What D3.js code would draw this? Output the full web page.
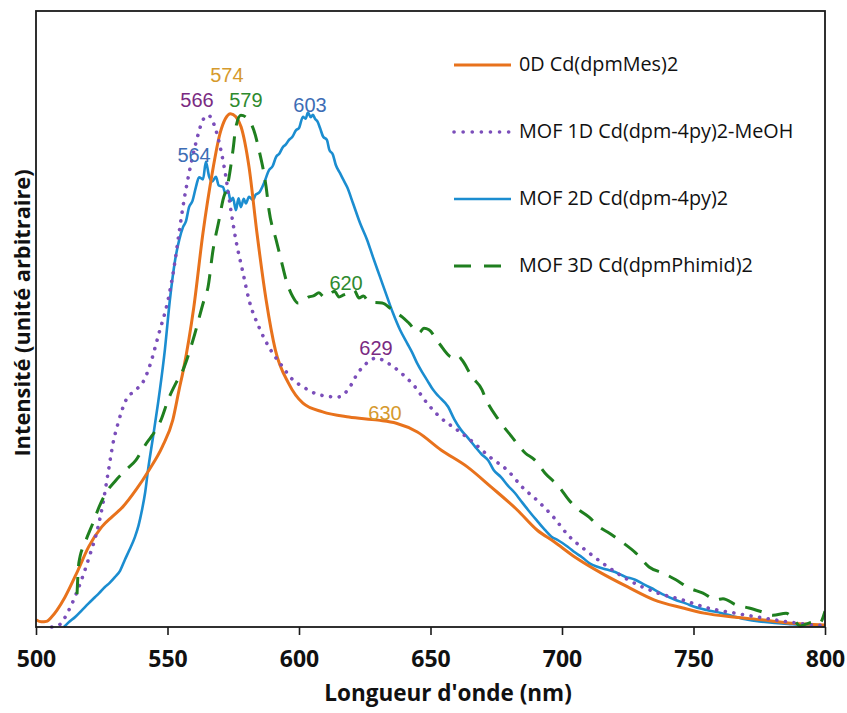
<!DOCTYPE html>
<html><head><meta charset="utf-8">
<script src="https://cdn.jsdelivr.net/npm/d3@7"></script>
<style>html,body{margin:0;padding:0;background:#fff;}svg{display:block;}</style>
</head><body>
<script>
// ---- data ----
const seriesNames = ["0D Cd(dpmMes)2","MOF 1D Cd(dpm-4py)2-MeOH","MOF 2D Cd(dpm-4py)2","MOF 3D Cd(dpmPhimid)2"];
const xTicks = [500,550,600,650,700,750,800];

const orange0D = [[500,0.014],[502,0.01],[504,0.011],[506,0.02],[508,0.033],[511,0.058],[516,0.111],[520,0.156],[525,0.195],[529,0.215],[533,0.234],[538,0.267],[543,0.306],[548,0.351],[552,0.403],[554.4,0.462],[556,0.5],[560,0.623],[563.5,0.768],[567,0.884],[570,0.962],[572,0.99],[574,1.0],[576,0.994],[578,0.974],[581,0.896],[584,0.768],[587.5,0.637],[591,0.54],[596,0.475],[601.5,0.436],[609,0.419],[619,0.409],[630,0.403],[637,0.397],[645,0.38],[654,0.345],[664,0.312],[673,0.273],[683,0.228],[690.5,0.189],[697,0.166],[705,0.136],[715,0.105],[725,0.078],[735,0.053],[746,0.037],[754,0.027],[766,0.019],[776,0.014],[786,0.008],[800,0.004]];

const purple1D = [[506,0],[508.8,0.004],[512.5,0.033],[516.3,0.078],[520.2,0.136],[523.6,0.195],[525.5,0.242],[527.4,0.3],[529.3,0.358],[531.2,0.397],[534.2,0.442],[538,0.462],[541,0.48],[543,0.505],[546.8,0.573],[550.2,0.637],[552.5,0.701],[554.4,0.768],[556.3,0.832],[558.2,0.884],[560.8,0.943],[563.5,0.988],[565.4,0.997],[568.4,0.968],[570.3,0.929],[572.2,0.877],[574.1,0.812],[576,0.754],[578.7,0.69],[581,0.637],[584.8,0.584],[588.6,0.545],[593.9,0.506],[597,0.485],[601.5,0.468],[608,0.452],[614.8,0.448],[618.6,0.462],[622.4,0.495],[626.2,0.516],[629.3,0.524],[633.8,0.514],[638.8,0.495],[644.1,0.468],[648.7,0.436],[653.6,0.409],[660.1,0.384],[666.2,0.36],[672.6,0.331],[679.1,0.306],[685.2,0.271],[690.5,0.247],[696.6,0.215],[702.3,0.179],[709.9,0.146],[717.5,0.117],[725.1,0.092],[735.4,0.068],[745.6,0.053],[755.5,0.037],[765.8,0.027],[776,0.018],[786,0.01],[796,0.004],[800,0.003]];

const blue2D = [[510.6,0],[512.2,0.008],[515,0.02],[517.5,0.033],[520,0.046],[522.4,0.058],[524,0.066],[526.2,0.078],[528,0.086],[530,0.097],[532,0.11],[533.8,0.131],[535.5,0.15],[537.6,0.175],[539,0.198],[540.3,0.228],[541.5,0.262],[542.6,0.306],[544.5,0.37],[546.4,0.436],[547.1,0.462],[549,0.54],[550.9,0.637],[552.9,0.715],[554.5,0.755],[555.9,0.779],[557,0.79],[558.2,0.818],[559.5,0.83],[560.8,0.857],[562,0.876],[563.5,0.872],[564.6,0.906],[565.8,0.878],[567,0.868],[568.4,0.877],[569.5,0.86],[571.1,0.857],[572,0.845],[573,0.85],[574,0.83],[574.9,0.836],[576,0.812],[577,0.835],[577.9,0.818],[579,0.834],[579.8,0.825],[581,0.838],[582.5,0.832],[583.5,0.842],[584.8,0.846],[586.7,0.865],[588.6,0.89],[590,0.898],[591.3,0.916],[592.5,0.922],[593.9,0.935],[595,0.94],[596.2,0.949],[597.5,0.955],[598.9,0.968],[600,0.972],[601.5,0.994],[602.5,0.99],[603.4,1.002],[604.5,0.993],[605.3,0.998],[606.1,0.99],[607,0.985],[608,0.972],[609.2,0.955],[610.6,0.949],[611.5,0.93],[612.9,0.92],[614,0.9],[615.6,0.884],[617,0.87],[618.3,0.857],[620.5,0.826],[623.2,0.787],[625.9,0.754],[628.1,0.721],[630.8,0.682],[633.5,0.643],[635.7,0.612],[638.4,0.579],[641.1,0.553],[643,0.535],[644.9,0.514],[647,0.495],[648.7,0.481],[651,0.462],[653,0.45],[656.7,0.429],[659,0.405],[661.6,0.384],[664,0.37],[667,0.351],[669.5,0.336],[671.9,0.325],[674,0.306],[676.8,0.292],[679.5,0.275],[682.1,0.261],[684.5,0.245],[687.1,0.228],[690,0.21],[693.5,0.189],[696,0.176],[698.5,0.169],[702.3,0.156],[705,0.145],[707.6,0.136],[710.5,0.124],[713.7,0.117],[717,0.112],[720.2,0.107],[724,0.098],[727.8,0.092],[731.5,0.082],[735.4,0.072],[739,0.062],[743,0.053],[747,0.046],[750.6,0.039],[755,0.033],[760.8,0.027],[765,0.021],[770.7,0.014],[775,0.011],[781,0.008],[786,0.006],[791,0.004],[795,0.003],[800,0.002]];

const green3D = [[515.6,0.064],[516.3,0.125],[519,0.169],[521.7,0.203],[524,0.234],[526.6,0.261],[530.4,0.286],[534.2,0.306],[538,0.325],[541.1,0.351],[543.7,0.37],[545.6,0.384],[547.5,0.403],[550.2,0.442],[553.2,0.475],[555.9,0.501],[559.7,0.559],[563.9,0.637],[565.4,0.662],[567.3,0.734],[569.6,0.793],[571.1,0.832],[573,0.865],[574.9,0.929],[576,0.974],[577.9,0.997],[580.9,0.988],[582.8,0.968],[584.8,0.929],[587.5,0.857],[588.6,0.812],[591.3,0.754],[593.2,0.715],[595.1,0.676],[597.7,0.643],[599.6,0.631],[601.1,0.633],[603.8,0.643],[605.5,0.645],[607.6,0.651],[609.5,0.643],[611.4,0.647],[613.5,0.654],[615.2,0.643],[617,0.647],[619,0.651],[621,0.656],[622.8,0.641],[624.5,0.645],[626.6,0.633],[631.6,0.631],[635.4,0.618],[639.2,0.604],[641.8,0.592],[645.6,0.573],[647.5,0.582],[649.4,0.579],[653.2,0.553],[658.2,0.526],[660,0.53],[662,0.52],[665.8,0.487],[669.6,0.462],[670.7,0.448],[676,0.403],[681,0.37],[686,0.339],[689.7,0.325],[693.5,0.3],[698.9,0.273],[702.7,0.247],[706.5,0.228],[710.3,0.214],[714.1,0.195],[717.9,0.183],[723.2,0.164],[728.1,0.144],[733.1,0.117],[738.4,0.105],[743.3,0.092],[748.3,0.076],[753.6,0.066],[758.6,0.053],[761.2,0.055],[766.2,0.043],[771.1,0.037],[776.4,0.029],[780.2,0.023],[785.2,0.027],[788.2,0.014],[790.5,0.002],[793,0.006],[796,0.01],[798,0.008],[800,0.031]];

// peak annotations: label, wavelength of label centre, intensity of label baseline, colour
const peakLabels = ["574","566","579","564","603","620","629","630"];
const peakNm     = [572.6,561.2,579.8,560.1,604.2,617.9,629.3,632.7];
const peakLevel  = [1.062,1.013,1.013,0.906,1.003,0.657,0.530,0.403];
const peakColors = ["#D69A2D","#7A2A82","#2E8A2E","#3D6DB5","#3D6DB5","#2E8A2E","#7A2A82","#D69A2D"];

// ---- drawing ----
const W = 847, H = 713;
const m = {left:36, right:22, top:11, bottom:86};
const svg = d3.select("body").append("svg").attr("width",W).attr("height",H);
const x = d3.scaleLinear().domain([500,800]).range([m.left, W-m.right]);
const y = d3.scaleLinear().domain([0,1.2]).range([H-m.bottom, m.top]);

const styles = [
  {data:orange0D, color:"#E8721C", width:3, dash:null, cap:"butt"},
  {data:purple1D, color:"#7B4EBA", width:3.6, dash:"0.1 8.6", cap:"round"},
  {data:blue2D,   color:"#1B8DD0", width:2.6, dash:null, cap:"butt"},
  {data:green3D,  color:"#1F7F1F", width:3, dash:"17 11", cap:"butt"}
];

const line = d3.line().x(d=>x(d[0])).y(d=>y(d[1])).curve(d3.curveMonotoneX);
svg.append("clipPath").attr("id","c").append("rect")
  .attr("x",m.left).attr("y",m.top).attr("width",W-m.left-m.right).attr("height",H-m.top-m.bottom+2);
const g = svg.append("g").attr("clip-path","url(#c)");
[2,0,1,3].forEach(i=>{
  const s = styles[i];
  g.append("path").datum(s.data).attr("d",line).attr("fill","none")
   .attr("stroke",s.color).attr("stroke-width",s.width)
   .attr("stroke-linecap",s.cap).attr("stroke-linejoin","round")
   .attr("stroke-dasharray",s.dash);
});

// frame
svg.append("rect").attr("x",m.left).attr("y",m.top).attr("width",W-m.left-m.right).attr("height",H-m.top-m.bottom)
  .attr("fill","none").attr("stroke","#1a1a1a").attr("stroke-width",1.8);

// x axis
const xAxis = d3.axisBottom(x).tickValues(xTicks).tickSize(8).tickPadding(16).tickFormat(d3.format("d"));
const ax = svg.append("g").attr("transform",`translate(0,${H-m.bottom})`).call(xAxis);
ax.select(".domain").remove();
ax.selectAll(".tick line").attr("stroke","#1a1a1a").attr("stroke-width",1.6);
ax.selectAll(".tick text").attr("fill","#111").style("font-family","'Open Sans', sans-serif")
  .style("font-weight","700").style("font-size","23px");

// axis titles
svg.append("text").attr("x",448).attr("y",701).attr("text-anchor","middle")
  .style("font-family","'Open Sans', sans-serif").style("font-weight","700").style("font-size","22.5px")
  .attr("fill","#111").text("Longueur d'onde (nm)");
svg.append("text").attr("transform",`translate(30,${(m.top+H-m.bottom)/2 - 6}) rotate(-90)`).attr("text-anchor","middle")
  .style("font-family","'Open Sans', sans-serif").style("font-weight","700").style("font-size","21.8px")
  .attr("fill","#111").text("Intensité (unité arbitraire)");

// peak labels
peakLabels.forEach((t,i)=>{
  svg.append("text").attr("x",x(peakNm[i])).attr("y",y(peakLevel[i])).attr("text-anchor","middle")
    .style("font-family","'Liberation Sans', Arial, sans-serif").style("font-size","20px")
    .attr("fill",peakColors[i]).text(t);
});

// legend
const leg = svg.append("g");
seriesNames.forEach((n,i)=>{
  const s = styles[i];
  const yy = 65 + i*67;
  leg.append("line").attr("x1",454).attr("x2",511).attr("y1",yy).attr("y2",yy)
    .attr("stroke",s.color).attr("stroke-width",s.width).attr("stroke-linecap",s.cap)
    .attr("stroke-dasharray", i===1 ? "0.1 9" : (i===3 ? "17 13" : null));
  leg.append("text").attr("x",519).attr("y",yy+6).style("font-family","'Open Sans', sans-serif")
    .style("font-size","19.8px").attr("fill","#111").text(n);
});
</script>
</body></html>
